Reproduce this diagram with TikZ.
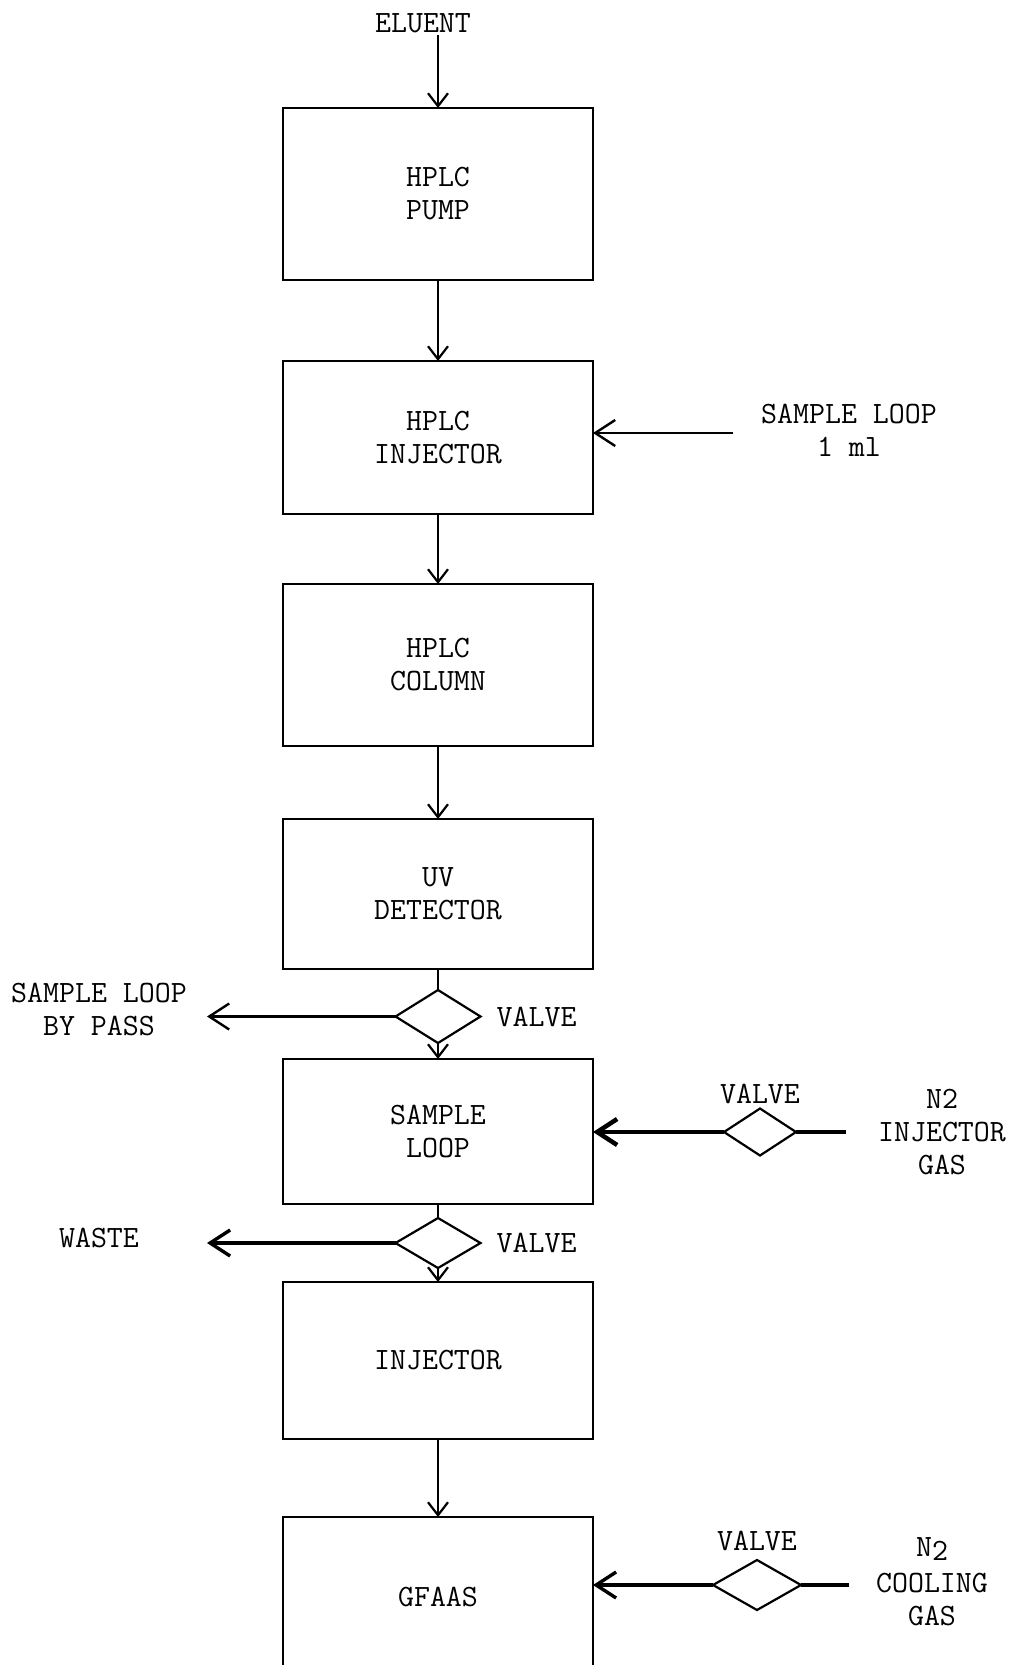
\documentclass[tikz,border=0pt]{standalone}
\usepackage{fontspec}
\usetikzlibrary{positioning,arrows.meta,shapes.geometric}

\begin{document}
\begin{tikzpicture}[x=1pt, y=-1pt,
  font=\fontsize{31}{33}\selectfont\ttfamily,
  unit/.style={draw, line width=2.6pt, minimum width=310pt, align=center, inner sep=0pt, outer sep=0pt},
  valve/.style={draw, diamond, line width=2.2pt, minimum width=85pt, minimum height=53pt, inner sep=0pt, outer sep=0pt},
  tag/.style={align=center, inner sep=2pt},
  flow/.style={-{Straight Barb[length=13pt,width=20pt]}, line width=2.2pt},
  feed/.style={-{Straight Barb[length=20pt,width=26pt]}, line width=2.4pt},
  gas/.style={line width=4.5pt}]
\useasboundingbox (0,0) rectangle (1013,1665);

% main column
\node[tag] (eluent) at (423,23) {ELUENT};
\node[unit, minimum height=172pt] (pump) at (438,194) {HPLC\\PUMP};
\node[unit, minimum height=153pt, below=81pt of pump] (hplcinj) {HPLC\\INJECTOR};
\node[unit, minimum height=162pt, below=70pt of hplcinj] (column) {HPLC\\COLUMN};
\node[unit, minimum height=150pt, below=73pt of column] (uv) {UV\\DETECTOR};
\node[valve, below=21pt of uv] (bypassvalve) {};
\node[unit, minimum height=145pt, below=16pt of bypassvalve] (loop) {SAMPLE\\LOOP};
\node[valve, minimum height=50pt, below=14pt of loop] (wastevalve) {};
\node[unit, minimum height=157pt, below=14pt of wastevalve] (injector) {INJECTOR};
\node[unit, minimum height=160pt, below=78pt of injector] (gfaas) {GFAAS};

\draw[flow] (pump.north |- eluent.south) -- (pump.north);
\draw[flow] (pump) -- (hplcinj);
\draw[flow] (hplcinj) -- (column);
\draw[flow] (column) -- (uv);
\draw[line width=2.2pt] (uv) -- (bypassvalve);
\draw[flow] (bypassvalve) -- (loop);
\draw[line width=2.2pt] (loop) -- (wastevalve);
\draw[flow] (wastevalve) -- (injector);
\draw[flow] (injector) -- (gfaas);

% left side
\node[tag] (bypass) at (99,1009) {SAMPLE LOOP\\BY PASS};
\node[tag, right=14pt of bypassvalve] (bypasstag) {VALVE};
\coordinate (bypassend) at (207,1016);
\draw[feed] (bypassvalve.west) -- (bypassend |- bypassvalve.west);

\node[tag] (waste) at (99,1238) {WASTE};
\node[tag, right=14pt of wastevalve] (wastetag) {VALVE};
\coordinate (wasteend) at (207,1242);
\draw[feed, line width=3.4pt] (wastevalve.west) -- (wasteend |- wastevalve.west);

% right side
\node[tag] (loopin) at (849,430) {SAMPLE LOOP\\1 ml};
\coordinate (loopinend) at (733,433);
\draw[feed] (loopinend) -- (hplcinj.east |- loopinend);

\node[valve, minimum width=72pt, minimum height=47pt] (injgasvalve) at (760,1132) {};
\node[tag, above=3pt of injgasvalve] (injgastag) {VALVE};
\node[tag] (injgas) at (942,1132) {N2\\INJECTOR\\GAS};
\coordinate (injgasend) at (846,1132);
\draw[gas] (injgasend) -- (injgasvalve.east);
\draw[feed, gas] (injgasvalve.west) -- (loop.east |- injgasvalve.west);

\node[valve, minimum width=88pt, minimum height=50pt] (coolvalve) at (757,1585) {};
\node[tag, above=7pt of coolvalve] (cooltag) {VALVE};
\node[tag] (coolgas) at (932,1582) {N\raisebox{-0.25ex}{2}\\[3pt]COOLING\\GAS};
\coordinate (coolgasend) at (849,1585);
\draw[gas, line width=4pt] (coolgasend) -- (coolvalve.east);
\draw[feed, line width=3.4pt] (coolvalve.west) -- (gfaas.east |- coolvalve.west);
\end{tikzpicture}
\end{document}
